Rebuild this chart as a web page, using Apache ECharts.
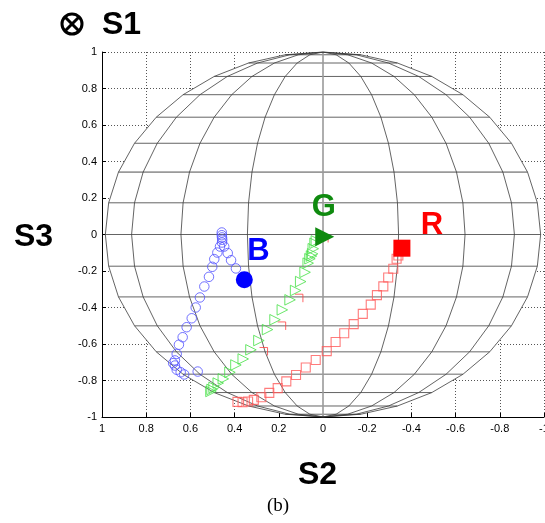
<!DOCTYPE html>
<html><head><meta charset="utf-8">
<script src="https://cdn.jsdelivr.net/npm/echarts@6/dist/echarts.min.js"></script>
<style>html,body{margin:0;padding:0;background:#fff}#c{width:545px;height:523px}</style>
</head><body><div id="c"></div>
<script>
// ---- data (S2 = x, S3 = y) ----
const blueS2 = [0.394,0.416,0.431,0.447,0.456,0.457,0.458,0.458,0.457,0.466,0.478,0.492,0.501,0.516,0.537,0.557,0.576,0.594,0.617,0.635,0.652,0.662,0.670,0.678,0.670,0.662,0.644,0.628,0.567];
const blueS3 = [-0.186,-0.141,-0.102,-0.066,-0.029,-0.016,-0.004,0.011,-0.044,-0.066,-0.099,-0.135,-0.177,-0.232,-0.285,-0.345,-0.400,-0.459,-0.508,-0.563,-0.604,-0.654,-0.690,-0.705,-0.718,-0.741,-0.755,-0.767,-0.751];
const greenS2 = [0.030,0.036,0.044,0.047,0.052,0.059,0.067,0.081,0.101,0.124,0.149,0.184,0.217,0.251,0.290,0.326,0.361,0.394,0.421,0.451,0.474,0.493,0.502,0.507];
const greenS3 = [-0.035,-0.048,-0.078,-0.106,-0.118,-0.133,-0.157,-0.207,-0.258,-0.307,-0.358,-0.413,-0.467,-0.521,-0.581,-0.632,-0.682,-0.715,-0.755,-0.791,-0.814,-0.838,-0.849,-0.860];
const redS2 = [-0.341,-0.333,-0.318,-0.295,-0.273,-0.244,-0.216,-0.180,-0.139,-0.096,-0.057,-0.017,0.033,0.078,0.122,0.166,0.205,0.243,0.279,0.313,0.339,0.364,0.387];
const redS3 = [-0.115,-0.133,-0.188,-0.236,-0.284,-0.332,-0.384,-0.435,-0.491,-0.541,-0.589,-0.639,-0.688,-0.729,-0.770,-0.805,-0.842,-0.868,-0.892,-0.906,-0.915,-0.919,-0.917];
const redHiddenS2 = [0.109,0.187,0.269,-0.005];
const redHiddenS3 = [-0.349,-0.501,-0.641,-0.022];
const bigLabels = ['B','G','R'];
const bigS2 = [0.356,-0.008,-0.357];
const bigS3 = [-0.248,-0.012,-0.075];
const tickValues = [1,0.8,0.6,0.4,0.2,0,-0.2,-0.4,-0.6,-0.8,-1];
// sphere wireframe (degrees)
const latitudesDeg = [-80,-70,-60,-50,-40,-30,-20,-10,0,10,20,30,40,50,60,70,80];
const grayLatitudes = [20,-30,-40,-50];
const meridianLonDeg = [0,20,40,60,80];

const rad = d => d*Math.PI/180;
const edge = Math.sin(rad(80));
const polesLat = [-90].concat(latitudesDeg, [90]);

const outline = [];
polesLat.forEach(l => outline.push([edge*Math.cos(rad(l)), Math.sin(rad(l))]));
polesLat.slice().reverse().forEach(l => outline.push([-edge*Math.cos(rad(l)), Math.sin(rad(l))]));

const series = [];
series.push({
  type:'custom', silent:true, z:1, data:[[0,0]],
  renderItem:(params, api) => ({type:'polygon', shape:{points: outline.map(p=>api.coord(p))}, style:{fill:'#fff', stroke:null}})
});
const wire = (pts, gray) => ({type:'line', data:pts, symbol:'none', silent:true, z:2,
  lineStyle:{color: gray ? '#9a9a9a' : '#3c3c3c', width: gray ? 1.6 : 0.8}});
latitudesDeg.forEach(l => {
  const c = edge*Math.cos(rad(l)), s = Math.sin(rad(l));
  series.push(wire([[-c,s],[c,s]], grayLatitudes.includes(l)));
});
meridianLonDeg.forEach(lon => {
  [1,-1].forEach(sg => {
    if (lon === 0 && sg < 0) return;
    const a = sg*Math.sin(rad(lon));
    series.push(wire(polesLat.map(l => [a*Math.cos(rad(l)), Math.sin(rad(l))]), lon === 0));
  });
});
const zip = (a,b) => a.map((v,i)=>[v,b[i]]);
series.push({type:'scatter', z:3, data: zip(redHiddenS2, redHiddenS3), symbol:'path://M0,0L10,0L10,10', symbolSize:8,
  itemStyle:{color:'none', borderColor:'#ff4040', borderWidth:1}, silent:true});
series.push({type:'scatter', z:4, data: zip(redS2, redS3), symbol:'rect', symbolSize:9,
  itemStyle:{color:'rgba(255,255,255,0)', borderColor:'#ff5a5a', borderWidth:1.1}, silent:true});
series.push({type:'scatter', z:4, data: zip(blueS2, blueS3), symbol:'circle', symbolSize:9.5,
  itemStyle:{color:'rgba(255,255,255,0)', borderColor:'#5050ff', borderWidth:1}, silent:true});
series.push({type:'scatter', z:4, data: zip(greenS2, greenS3), symbol:'triangle', symbolSize:10.5, symbolRotate:-90,
  itemStyle:{color:'rgba(255,255,255,0)', borderColor:'#44e044', borderWidth:1}, silent:true});
const bigColors = ['#0000ff','#0f8a0f','#ff0000'];
const bigSymbols = ['circle','triangle','rect'];
const bigSizes = [17,19,17];
const bigRot = [0,-90,0];
const bigOffsets = [[14,-28],[-1,-29],[30,-23]];
bigLabels.forEach((lab,i) => {
  series.push({type:'scatter', z:5, silent:true,
    data:[[bigS2[i], bigS3[i]]], symbol:bigSymbols[i], symbolSize:bigSizes[i], symbolRotate:bigRot[i],
    itemStyle:{color:bigColors[i], opacity:1},
    label:{show:true, formatter:lab, position:'inside', offset:bigOffsets[i], color:bigColors[i],
      fontFamily:'Liberation Sans, Arial, sans-serif', fontWeight:'bold', fontSize:31}});
});

const fmt = v => { const r = Math.round(v*10)/10; return tickValues.includes(r) ? String(r) : ''; };
const axisCommon = {
  type:'value', min:-1, max:1, interval:0.2,
  axisLine:{show:true, onZero:false, lineStyle:{color:'#000', width:1}},
  axisTick:{show:true, inside:true, length:4, lineStyle:{color:'#000'}},
  splitLine:{show:true, lineStyle:{color:'#555', width:1, type:[1,2]}},
  axisLabel:{color:'#000', fontSize:11, fontFamily:'Liberation Sans, Arial, sans-serif', formatter:fmt}
};
const chart = echarts.init(document.getElementById('c'));
chart.setOption({
  animation:false,
  grid:{left:102, right:1, top:52, bottom:106, containLabel:false, outerBoundsMode:'none'},
  xAxis:Object.assign({}, axisCommon, {inverse:true, axisLabel:Object.assign({}, axisCommon.axisLabel, {margin:6})}),
  yAxis:Object.assign({}, axisCommon, {axisLabel:Object.assign({}, axisCommon.axisLabel, {margin:5})}),
  graphic:[
    {type:'circle', shape:{cx:72, cy:24, r:10}, style:{fill:'none', stroke:'#000', lineWidth:3}},
    {type:'line', shape:{x1:65, y1:17, x2:79, y2:31}, style:{stroke:'#000', lineWidth:3}},
    {type:'line', shape:{x1:79, y1:17, x2:65, y2:31}, style:{stroke:'#000', lineWidth:3}},
    {type:'text', left:102, top:9, style:{text:'S1', font:'bold 32px "Liberation Sans", Arial, sans-serif', fill:'#000'}},
    {type:'text', left:14, top:221, style:{text:'S3', font:'bold 32px "Liberation Sans", Arial, sans-serif', fill:'#000'}},
    {type:'text', left:298, top:459, style:{text:'S2', font:'bold 32px "Liberation Sans", Arial, sans-serif', fill:'#000'}},
    {type:'text', left:267, top:497, style:{text:'(b)', font:'19px "Liberation Serif", "Times New Roman", serif', fill:'#000'}}
  ],
  series:series
});
</script></body></html>
